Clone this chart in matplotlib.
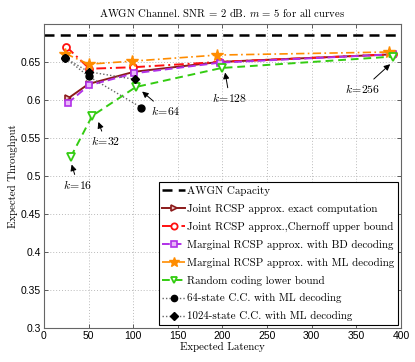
import matplotlib
matplotlib.use("Agg")
import matplotlib.pyplot as plt

plt.rcParams['mathtext.fontset'] = 'cm'
plt.rcParams['axes.unicode_minus'] = False

capacity = 0.685
x_joint = [27, 50, 101, 197, 391]
y_joint = [0.602, 0.621, 0.637, 0.650, 0.660]
x_chern = [25, 51, 100, 197, 391]
y_chern = [0.670, 0.641, 0.643, 0.650, 0.660]
x_bd = [27, 50, 101, 197, 391]
y_bd = [0.596, 0.619, 0.635, 0.649, 0.660]
x_ml = [24, 50, 99, 194, 387]
y_ml = [0.661, 0.647, 0.651, 0.659, 0.663]
x_rand = [30, 54, 103, 199, 391]
y_rand = [0.525, 0.579, 0.617, 0.642, 0.657]
x_cc64 = [24, 50, 109]
y_cc64 = [0.655, 0.631, 0.590]
x_cc1024 = [24, 50, 102]
y_cc1024 = [0.655, 0.637, 0.627]

k_labels = [r'$k\!=\!16$', r'$k\!=\!32$', r'$k\!=\!64$', r'$k\!=\!128$', r'$k\!=\!256$']
k_arrow_xy = [(31, 0.515), (61, 0.571), (110, 0.611), (203, 0.636), (388, 0.647)]
k_text_xy = [(38, 0.488), (69, 0.545), (136, 0.585), (208, 0.602), (357, 0.614)]

fig = plt.figure(figsize=(4.15, 3.62), dpi=100)
ax = fig.add_axes([0.106, 0.094, 0.860, 0.840])

serif = 'cmr10'
brown = '#8B1A1A'
red = '#FF1010'
purple = '#B030E8'
orange = '#FF8C00'
green = '#33CC11'

ax.axhline(capacity, color='black', ls=(0, (4, 2.5)), lw=1.8, label='AWGN Capacity')
ax.plot(x_joint, y_joint, color=brown, ls='-', lw=1.4, marker='>', ms=5,
        mfc='#F0C8C8', mec=brown, mew=1.2, label='Joint RCSP approx. exact computation')
ax.plot(x_chern, y_chern, color=red, ls=(0, (5, 2, 1, 2)), lw=1.4, marker='o', ms=5,
        mfc='white', mec=red, mew=1.3, label='Joint RCSP approx.,Chernoff upper bound')
ax.plot(x_bd, y_bd, color=purple, ls=(0, (4, 2)), lw=1.4, marker='s', ms=4.2,
        mfc='#E8B8F8', mec=purple, mew=1.2, label='Marginal RCSP approx. with BD decoding')
ax.plot(x_ml, y_ml, color=orange, ls=(0, (5, 2, 1, 2)), lw=1.2, marker='*', ms=8.5,
        mfc=orange, mec=orange, label='Marginal RCSP approx. with ML decoding')
ax.plot(x_rand, y_rand, color=green, ls=(0, (4, 2.5)), lw=1.4, marker='v', ms=5.5,
        mfc='white', mec=green, mew=1.3, label='Random coding lower bound')
ax.plot(x_cc64, y_cc64, color='#666666', ls=(0, (1, 1.5)), lw=1.0, marker='o', ms=5,
        mfc='black', mec='black', label='64-state C.C. with ML decoding')
ax.plot(x_cc1024, y_cc1024, color='#666666', ls=(0, (1, 1.5)), lw=1.0, marker='D', ms=4.3,
        mfc='black', mec='black', label='1024-state C.C. with ML decoding')

for lab, xy, xyt in zip(k_labels, k_arrow_xy, k_text_xy):
    ax.annotate(lab, xy=xy, xytext=xyt, fontsize=8.5, ha='center', va='center',
                arrowprops=dict(arrowstyle='-|>', color='black', lw=0.7,
                                mutation_scale=9, shrinkA=1, shrinkB=0))

ax.set_xlim(0, 400)
ax.set_ylim(0.3, 0.7)
ax.set_xticks(range(0, 401, 50))
ax.set_yticks([0.3, 0.35, 0.4, 0.45, 0.5, 0.55, 0.6, 0.65])
ax.set_yticklabels(['0.3', '0.35', '0.4', '0.45', '0.5', '0.55', '0.6', '0.65'])
ax.tick_params(direction='in', top=True, right=True, labelsize=7.5, length=3,
               width=0.6, color='#444444', pad=2)
for lbl in ax.get_xticklabels() + ax.get_yticklabels():
    lbl.set_family('Liberation Sans')
ax.grid(True, ls=(0, (1, 2)), color='#BBBBBB', lw=0.7)
for s in ax.spines.values():
    s.set_color('#666666')
    s.set_linewidth(0.8)

ax.set_title(r'AWGN Channel. SNR = 2 dB. $m$ = 5 for all curves', fontsize=7.7,
             family=serif, pad=5)
ax.set_xlabel('Expected Latency', fontsize=7.8, family=serif, labelpad=1)
ax.set_ylabel('Expected Throughput', fontsize=7.8, family=serif, labelpad=2)

leg = ax.legend(loc='lower right', prop={'family': serif, 'size': 7.9}, frameon=True,
                fancybox=False, edgecolor='black', framealpha=1, handlelength=2.1,
                handletextpad=0.15, borderpad=0.35, labelspacing=0.72,
                borderaxespad=0.25, markerscale=0.9)
leg.get_frame().set_linewidth(0.8)

fig.savefig('out.png', dpi=100)
